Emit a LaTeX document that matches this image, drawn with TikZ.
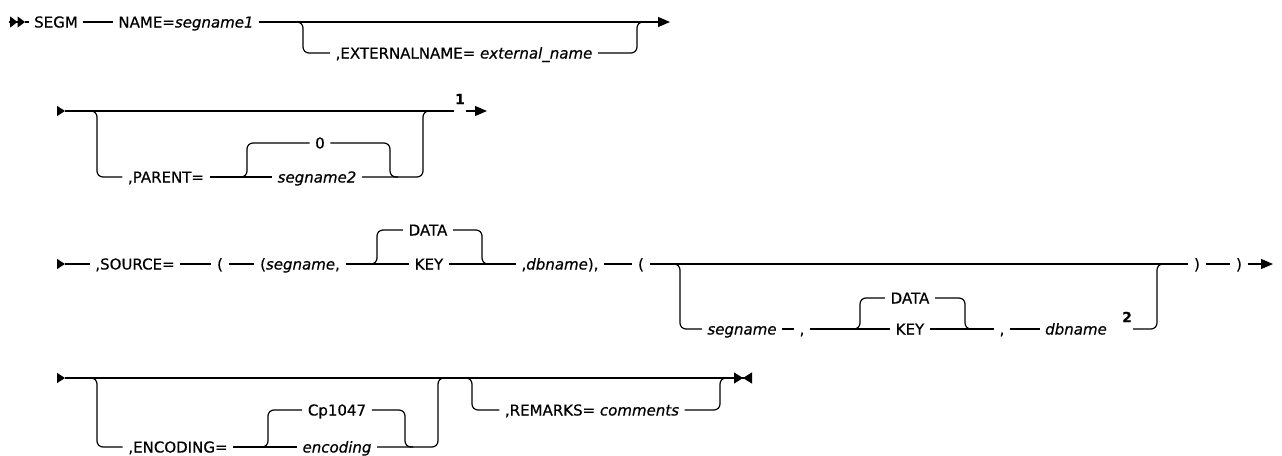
\documentclass[tikz,border=0pt]{standalone}
\usepackage{fontspec}
\setmainfont{DejaVu Sans}[FakeBold=0.5]
\usetikzlibrary{arrows.meta, calc}
\tikzset{
  rail/.style={line width=1.2pt, rounded corners=6pt},
  word/.style={
    inner xsep=5.5pt,
    inner ysep=0pt,
    text height=11pt,
    text depth=0pt,
    font=\fontsize{15}{18}\selectfont
  },
  fnote/.style={inner sep=1pt, font=\fontsize{14}{16}\selectfont\bfseries},
  endtip/.style={-{Triangle[length=12pt,width=10pt]}},
  starttip/.style={-{Triangle[length=8pt,width=10pt]}},
  doubletip/.style={-{Triangle[length=7.5pt,width=11pt,sep=0pt]Triangle[length=7.5pt,width=11pt]}},
  stoptip/.style={-{Triangle[length=9pt,width=11pt,sep=0pt]Triangle[reversed,length=9pt,width=11pt]}}
}
\begin{document}
\begin{tikzpicture}[x=1pt, y=-1pt]
  \useasboundingbox (0,0) rectangle (1282,455);

  % first line
  \coordinate (s1a) at (9,22);
  \coordinate (s1b) at (25,22);
  \node[word] (segm) at (56,22) {SEGM};
  \node[word] (name) at (186,22) {NAME=\textit{segname1}};
  \coordinate (b1) at (295,22);
  \node[word] (ext) at (464,53) {,EXTERNALNAME= \textit{external\_name}};
  \coordinate (j1) at (645,22);
  \coordinate (e1) at (670,22);

  \draw[rail, doubletip] (s1a) -- (s1b);
  \draw[rail] (s1b) -- (segm);
  \draw[rail] (segm) -- (name);
  \draw[rail, endtip] (name) -- (e1);
  \draw[rail] (b1) -- ++(8,0) |- (ext.west);
  \draw[rail] (ext.east) -| ([xshift=-8pt]j1) -- (j1);

  % second line
  \coordinate (s2a) at (57,111);
  \coordinate (s2b) at (65,111);
  \coordinate (b2) at (89,111);
  \node[word] (parent) at (166,177) {,PARENT=};
  \coordinate (b2i) at (239,177);
  \node[word] (zero) at (320,143) {0};
  \node[word] (seg2) at (317,177) {\textit{segname2}};
  \coordinate (j2i) at (398,177);
  \coordinate (j2) at (431,111);
  \node[fnote] (n1) at (460,99) {1};
  \coordinate (e2) at (487,111);

  \draw[rail, starttip] (s2a) -- (s2b);
  \draw[rail] (s2b) -- (n1.west |- s2b);
  \draw[rail, endtip] (n1.east |- s2b) -- (e2);
  \draw[rail] (b2) -- ++(8,0) |- (parent.west);
  \draw[rail] (parent) -- (seg2);
  \draw[rail] (b2i) -- ++(8,0) |- (zero.west);
  \draw[rail] (zero.east) -| ([xshift=-8pt]j2i) -- (j2i);
  \draw[rail] (seg2.east) -| ([xshift=-8pt]j2) -- (j2);

  % third line
  \coordinate (s3a) at (57,264);
  \coordinate (s3b) at (65,264);
  \node[word] (source) at (135,264) {,SOURCE=};
  \node[word] (lp1) at (220,264) {(};
  \node[word] (segn1) at (300,264) {(\textit{segname},};
  \coordinate (b3a) at (369,264);
  \node[word] (data1) at (428,230) {DATA};
  \node[word] (key1) at (429,264) {KEY};
  \coordinate (j3a) at (490,264);
  \node[word] (dbn1) at (560,264) {,\textit{dbname}),};
  \node[word] (lp2) at (641,264) {(};
  \coordinate (b3b) at (672,264);
  \node[word] (segn2) at (742,329) {\textit{segname}};
  \node[word] (cm1) at (802,329) {,};
  \coordinate (b3c) at (852,329);
  \node[word] (data2) at (910,298) {DATA};
  \node[word] (key2) at (910,329) {KEY};
  \coordinate (j3c) at (973,329);
  \node[word] (cm2) at (1002,329) {,};
  \node[word] (dbn2) at (1076,329) {\textit{dbname}};
  \node[fnote] (n2) at (1127,317) {2};
  \coordinate (j3b) at (1165,264);
  \node[word] (rp1) at (1197,264) {)};
  \node[word] (rp2) at (1239,264) {)};
  \coordinate (e3) at (1273,264);

  \draw[rail, starttip] (s3a) -- (s3b);
  \draw[rail] (s3b) -- (source);
  \draw[rail] (source) -- (lp1);
  \draw[rail] (lp1) -- (segn1);
  \draw[rail] (segn1) -- (key1);
  \draw[rail] (b3a) -- ++(8,0) |- (data1.west);
  \draw[rail] (data1.east) -| ([xshift=-8pt]j3a) -- (j3a);
  \draw[rail] (key1) -- (dbn1);
  \draw[rail] (dbn1) -- (lp2);
  \draw[rail] (lp2) -- (rp1);
  \draw[rail] (b3b) -- ++(8,0) |- (segn2.west);
  \draw[rail] (segn2) -- (cm1);
  \draw[rail] (cm1) -- (key2);
  \draw[rail] (b3c) -- ++(8,0) |- (data2.west);
  \draw[rail] (data2.east) -| ([xshift=-8pt]j3c) -- (j3c);
  \draw[rail] (key2) -- (cm2);
  \draw[rail] (cm2) -- (dbn2);
  \draw[rail] (n2.east |- dbn2) -| ([xshift=-8pt]j3b) -- (j3b);
  \draw[rail] (rp1) -- (rp2);
  \draw[rail, endtip] (rp2) -- (e3);

  % fourth line
  \coordinate (s4a) at (57,378);
  \coordinate (s4b) at (65,378);
  \coordinate (b4) at (89,378);
  \node[word] (enc) at (178,447) {,ENCODING=};
  \coordinate (b4i) at (260,447);
  \node[word] (cp) at (337,410) {Cp1047};
  \node[word] (encv) at (337,447) {\textit{encoding}};
  \coordinate (j4i) at (413,447);
  \coordinate (j4) at (446,378);
  \coordinate (b4r) at (464,378);
  \node[word] (rem) at (592,410) {,REMARKS= \textit{comments}};
  \coordinate (j4r) at (728,378);
  \coordinate (e4) at (752,378);

  \draw[rail, starttip] (s4a) -- (s4b);
  \draw[rail, stoptip] (s4b) -- (e4);
  \draw[rail] (b4) -- ++(8,0) |- (enc.west);
  \draw[rail] (enc) -- (encv);
  \draw[rail] (b4i) -- ++(8,0) |- (cp.west);
  \draw[rail] (cp.east) -| ([xshift=-8pt]j4i) -- (j4i);
  \draw[rail] (encv.east) -| ([xshift=-8pt]j4) -- (j4);
  \draw[rail] (b4r) -- ++(8,0) |- (rem.west);
  \draw[rail] (rem.east) -| ([xshift=-8pt]j4r) -- (j4r);
\end{tikzpicture}
\end{document}
